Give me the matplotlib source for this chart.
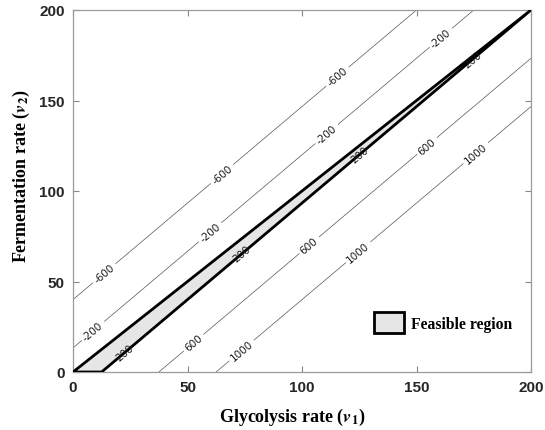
import numpy as np
import matplotlib
matplotlib.use("Agg")
import matplotlib.pyplot as plt
from matplotlib.patches import Polygon, Patch

# ---- data ----
obj_coef = [16, -15]                      # objective f = 16*v1 - 15*v2
contour_levels = [-600, -200, 200, 600, 1000]
feasible_v1 = [0, 12.5, 200]
feasible_v2 = [0, 0, 200]
x_ticks = [0, 50, 100, 150, 200]
y_ticks = [0, 50, 100, 150, 200]

plt.rcParams['mathtext.fontset'] = 'stix'

fig = plt.figure(figsize=(5.45, 4.31), dpi=100)
ax = fig.add_axes([73/545, 58/431, 458/545, 362/431])

v1 = np.linspace(0, 200, 401)
v2 = np.linspace(0, 200, 401)
V1, V2 = np.meshgrid(v1, v2)
F = obj_coef[0] * V1 + obj_coef[1] * V2

cs = ax.contour(V1, V2, F, levels=contour_levels, colors='#555555',
                linewidths=0.5, linestyles='solid')
label_pos = [(14.0, 54.1), (65.1, 109.4), (115.3, 163.5),
             (8.7, 22.7), (59.8, 77.3), (110, 132.6), (161.1, 184),
             (22.7, 11), (73.8, 65.2), (124.5, 121.5), (174.7, 172.9),
             (52.4, 16.6), (103.5, 69.6), (154.6, 124.9),
             (73.8, 11.6), (124.5, 66.3), (175.5, 121.5)]
ax.clabel(cs, manual=label_pos, inline=True, inline_spacing=3,
          fontsize=7.5, fmt='%d', colors='#1a1a1a')

poly = Polygon(list(zip(feasible_v1, feasible_v2)), closed=True,
               facecolor='#e6e6e6', edgecolor='black', linewidth=2, zorder=3)
ax.add_patch(poly)

ax.set_xlim(0, 200)
ax.set_ylim(0, 200)
ax.set_xticks(x_ticks)
ax.set_yticks(y_ticks)
ax.tick_params(direction='in', length=4, top=True, right=True, color='#888888',
               labelsize=11, pad=6)
for lab in ax.get_xticklabels() + ax.get_yticklabels():
    lab.set_fontfamily('Liberation Sans')
    lab.set_fontweight('bold')
    lab.set_color('#262626')
for s in ax.spines.values():
    s.set_color('#9a9a9a')
    s.set_linewidth(0.9)

ax.set_xlabel(r'Glycolysis rate ($\boldsymbol{v}_{\mathbf{1}}$)', fontfamily='Liberation Serif',
              fontweight='bold', fontsize=13)
ax.set_ylabel(r'Fermentation rate ($\boldsymbol{v}_{\mathbf{2}}$)', fontfamily='Liberation Serif',
              fontweight='bold', fontsize=13)
ax.xaxis.set_label_coords(0.478, -0.093)
ax.yaxis.set_label_coords(-0.09, 0.544)

handle = Patch(facecolor='#e6e6e6', edgecolor='black', linewidth=2, label='Feasible region')
ax.legend(handles=[handle], loc='lower right', bbox_to_anchor=(0.99, 0.07), frameon=False,
          prop={'family': 'Liberation Serif', 'weight': 'bold', 'size': 11.3},
          handlelength=1.9, handleheight=1.6, handletextpad=0.45)

fig.savefig('out.png', dpi=100)
